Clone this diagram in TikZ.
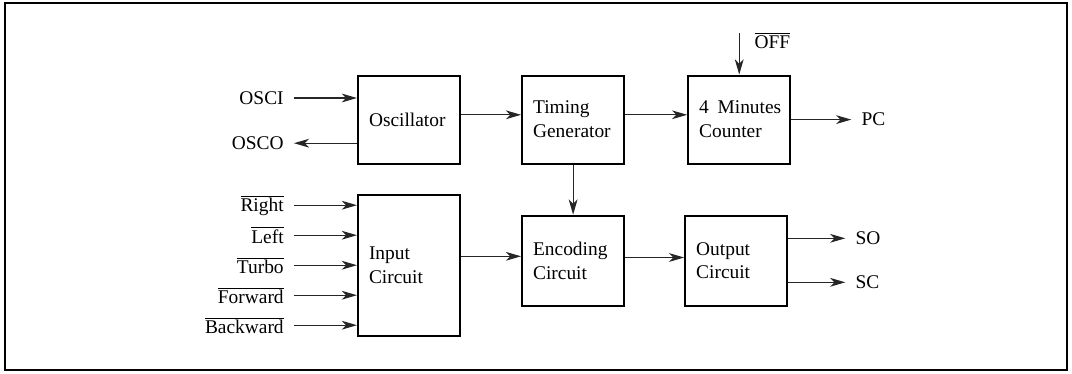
\documentclass[tikz,border=0pt]{standalone}
\usepackage{fontspec}
\setmainfont{Liberation Serif}
\usetikzlibrary{arrows.meta,positioning}

\begin{document}
\begin{tikzpicture}[>={Stealth[length=3.8mm,width=2.2mm,inset=1.1mm]},font=\fontsize{13.8}{17}\selectfont]
  \tikzstyle{block}=[rectangle,draw=black,line width=1.5pt,minimum width=2.55cm,minimum
  height=2.2cm,text width=2.0cm,inner xsep=2.75mm,align=left]
  \tikzstyle{tall}=[block,minimum height=3.525cm]
  \tikzstyle{sig}=[inner xsep=2.5mm,inner ysep=0.5mm]
  \tikzstyle{wire}=[->,line width=0.8pt,color=black!85]

  \useasboundingbox (0,0) rectangle (26.8,-9.325);
  \draw [line width=1.2pt] (0.125,-0.075) rectangle (26.675,-9.25);

  \begin{scope}
    % Upper row
    \node [block] (osc) at (10.225,-2.99) {Oscillator};
    \node [block] (timing) [right = 1.5cm of osc] {Timing\\Generator};
    \node [block] (counter) [right = 1.55cm of timing] {\mbox{4\hspace{0.45em}Minutes}\\Counter};
    % Lower row
    \node [tall] (input) [below = 0.725cm of osc] {Input\\Circuit};
    \node [block,minimum height=2.25cm] (encoding) [below = 1.25cm of timing] {Encoding\\Circuit};
    \node [block,minimum height=2.25cm] (output) [right = 1.475cm of encoding] {Output\\Circuit};

    \node [sig] (osci) [left = 1.575cm of osc, yshift=0.54cm] {OSCI};
    \node [sig] (osco) [left = 1.575cm of osc, yshift=-0.59cm] {OSCO};
    \node [sig] (pc) [right = 1.5cm of counter] {PC};
    \node [sig] (so) [right = 1.425cm of output, yshift=0.56cm] {SO};
    \node [sig] (sc) [right = 1.425cm of output, yshift=-0.54cm] {SC};
    \coordinate (offin) at ([yshift=1.05cm]counter.north);
    \node [sig,anchor=north west,inner ysep=0pt] (off) at ([xshift=1.25mm]offin)
      {$\overline{\mbox{OFF}}$};
  \end{scope}

  \begin{scope}
    \foreach \name/\txt/\dy in {inr/Right/1.5cm, inl/Left/0.75cm, inturbo/Turbo/0cm,
        infwd/Forward/-0.75cm, inbwd/Backward/-1.5cm} {
      \node [sig] (\name) [left = 1.575cm of input, yshift=\dy] {$\overline{\mbox{\txt}}$};
      \path [wire] (\name) edge (\name -| input.west);
    }

    \path [wire] (osci) edge (osci -| osc.west);
    \path [wire] (osco -| osc.west) edge (osco);
    \path [wire] ([yshift=1.2mm]osc.east) edge ([yshift=1.2mm]timing.west);
    \path [wire] ([yshift=1.2mm]timing.east) edge ([yshift=1.2mm]counter.west);
    \path [wire] (offin) edge (counter);
    \path [wire] (counter) edge (pc);
    \path [wire] (timing) edge (encoding);

    \coordinate (encin) at ([yshift=1.1mm]encoding.west);
    \coordinate (encout) at ([yshift=0.8mm]encoding.east);
    \path [wire] (input.east |- encin) edge (encin);
    \path [wire] (encout) edge (encout -| output.west);
    \path [wire] (so -| output.east) edge (so);
    \path [wire] (sc -| output.east) edge (sc);
  \end{scope}
\end{tikzpicture}
\end{document}
